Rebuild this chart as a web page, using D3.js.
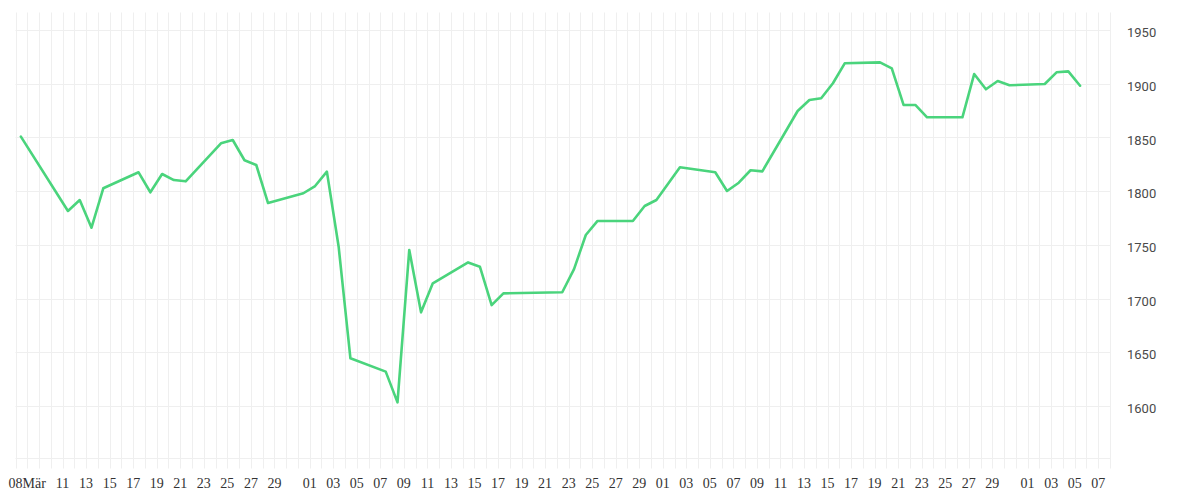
<!DOCTYPE html>
<html>
<head>
<meta charset="utf-8">
<script src="https://cdn.jsdelivr.net/npm/d3@7"></script>
<style>
  html, body { margin: 0; padding: 0; background: #ffffff; }
  svg { display: block; }
</style>
</head>
<body>
<svg id="chart" width="1200" height="500"></svg>
<script>
// ---- data ----
const dates = [
  "2025-03-07","2025-03-11","2025-03-12","2025-03-13","2025-03-14",
  "2025-03-17","2025-03-18","2025-03-19","2025-03-20","2025-03-21",
  "2025-03-24","2025-03-25","2025-03-26","2025-03-27","2025-03-28",
  "2025-03-31","2025-04-01","2025-04-02","2025-04-03","2025-04-04",
  "2025-04-07","2025-04-08","2025-04-09","2025-04-10","2025-04-11",
  "2025-04-14","2025-04-15","2025-04-16","2025-04-17",
  "2025-04-22","2025-04-23","2025-04-24","2025-04-25",
  "2025-04-28","2025-04-29","2025-04-30","2025-05-02",
  "2025-05-05","2025-05-06","2025-05-07","2025-05-08","2025-05-09",
  "2025-05-12","2025-05-13","2025-05-14","2025-05-15","2025-05-16",
  "2025-05-19","2025-05-20","2025-05-21","2025-05-22","2025-05-23",
  "2025-05-26","2025-05-27","2025-05-28","2025-05-29","2025-05-30",
  "2025-06-02","2025-06-03","2025-06-04","2025-06-05"
];
const values = [
  1850.7, 1781.5, 1791.7, 1765.9, 1802.6,
  1817.5, 1798.9, 1815.9, 1810.3, 1809.1,
  1844.5, 1847.6, 1828.7, 1824.3, 1788.9,
  1798.0, 1804.7, 1818.1, 1748.2, 1644.3,
  1631.9, 1603.3, 1745.2, 1687.1, 1714.1,
  1733.6, 1729.6, 1693.9, 1704.8,
  1705.8, 1727.4, 1759.1, 1772.2,
  1772.2, 1786.1, 1791.7, 1822.2,
  1817.5, 1800.1, 1807.8, 1819.4, 1818.4,
  1874.6, 1884.8, 1886.4, 1900.4, 1919.0,
  1919.9, 1914.3, 1880.2, 1880.2, 1868.7,
  1868.7, 1909.0, 1894.8, 1902.5, 1898.5,
  1899.7, 1910.6, 1911.5, 1898.1
];
const sampleHour = 11; // time of day each value was taken

const xDomain = ["2025-03-07", "2025-06-08"];
const xTickDates = [
  "2025-03-08","2025-03-11","2025-03-13","2025-03-15","2025-03-17","2025-03-19",
  "2025-03-21","2025-03-23","2025-03-25","2025-03-27","2025-03-29",
  "2025-04-01","2025-04-03","2025-04-05","2025-04-07","2025-04-09","2025-04-11",
  "2025-04-13","2025-04-15","2025-04-17","2025-04-19","2025-04-21","2025-04-23",
  "2025-04-25","2025-04-27","2025-04-29",
  "2025-05-01","2025-05-03","2025-05-05","2025-05-07","2025-05-09","2025-05-11",
  "2025-05-13","2025-05-15","2025-05-17","2025-05-19","2025-05-21","2025-05-23",
  "2025-05-25","2025-05-27","2025-05-29",
  "2025-06-01","2025-06-03","2025-06-05","2025-06-07"
];
const xTickLabels = [
  "08Mär","11","13","15","17","19","21","23","25","27","29",
  "01","03","05","07","09","11","13","15","17","19","21","23","25","27","29",
  "01","03","05","07","09","11","13","15","17","19","21","23","25","27","29",
  "01","03","05","07"
];
const yTicks = [1600, 1650, 1700, 1750, 1800, 1850, 1900, 1950];
const yTickLabels = ["1600", "1650", "1700", "1750", "1800", "1850", "1900", "1950"];

// ---- layout ----
const plotLeft = 15.5, plotRight = 1110, plotTop = 12.5, plotBottom = 458.5;
const parseDay = d3.timeParse("%Y-%m-%d");

const x = d3.scaleTime()
  .domain(xDomain.map(parseDay))
  .range([plotLeft, plotRight]);

const y = d3.scaleLinear()
  .domain([1600, 1950])
  .range([405.9, 30]);

const svg = d3.select("#chart");
const gridColor = "#efefef";

// vertical day grid lines (with small ticks under the plot)
const days = d3.timeDay.range(parseDay(xDomain[0]), d3.timeDay.offset(parseDay(xDomain[1]), 1));
svg.append("g")
  .selectAll("line")
  .data(days)
  .join("line")
  .attr("x1", d => Math.round(x(d)) + 0.5)
  .attr("x2", d => Math.round(x(d)) + 0.5)
  .attr("y1", plotTop)
  .attr("y2", plotBottom + 10)
  .attr("stroke", gridColor)
  .attr("stroke-width", 1);

// horizontal grid lines
svg.append("g")
  .selectAll("line")
  .data(yTicks)
  .join("line")
  .attr("x1", plotLeft)
  .attr("x2", plotRight + 0.5)
  .attr("y1", d => Math.round(y(d)) + 0.5)
  .attr("y2", d => Math.round(y(d)) + 0.5)
  .attr("stroke", gridColor)
  .attr("stroke-width", 1);

// bottom border line
svg.append("line")
  .attr("x1", plotLeft)
  .attr("x2", plotRight + 0.5)
  .attr("y1", plotBottom)
  .attr("y2", plotBottom)
  .attr("stroke", gridColor)
  .attr("stroke-width", 1);

// x labels
svg.append("g")
  .selectAll("text")
  .data(xTickDates.map((d, i) => ({ date: parseDay(d), label: xTickLabels[i] })))
  .join("text")
  .attr("x", d => x(d.date))
  .attr("y", 488)
  .attr("text-anchor", "middle")
  .attr("font-family", "'Liberation Serif', serif")
  .attr("font-size", "14px")
  .attr("fill", "#333333")
  .text(d => d.label);

// y labels on the right
svg.append("g")
  .selectAll("text")
  .data(yTicks.map((v, i) => ({ v, label: yTickLabels[i] })))
  .join("text")
  .attr("x", 1127)
  .attr("y", d => y(d.v) + 7.2)
  .attr("text-anchor", "start")
  .attr("font-family", "Roboto, sans-serif")
  .attr("font-size", "13px")
  .attr("fill", "#4a4a4a")
  .text(d => d.label);

// the line
const points = dates.map((d, i) => ({
  date: d3.timeHour.offset(parseDay(d), sampleHour),
  value: values[i]
}));

const line = d3.line()
  .x(d => x(d.date))
  .y(d => y(d.value));

svg.append("path")
  .datum(points)
  .attr("d", line)
  .attr("fill", "none")
  .attr("stroke", "#4ad47c")
  .attr("stroke-width", 2.6)
  .attr("stroke-linejoin", "round")
  .attr("stroke-linecap", "round");
</script>
</body>
</html>
